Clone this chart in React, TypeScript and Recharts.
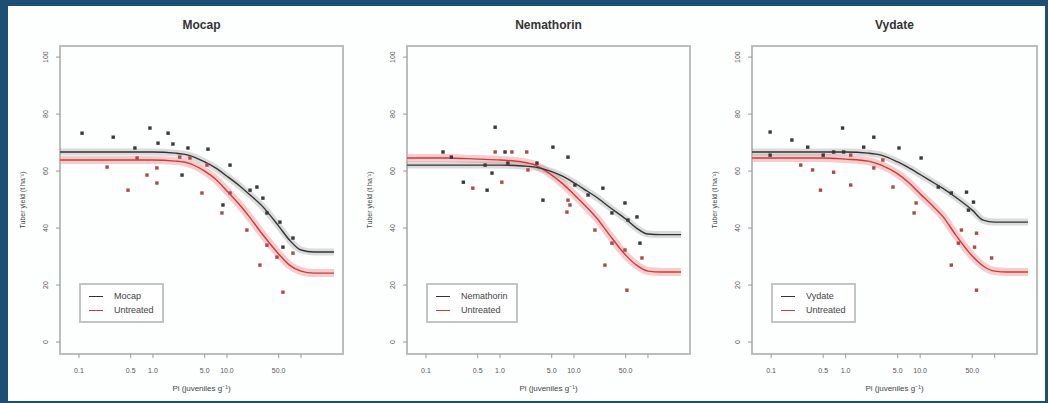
import React from "react";
import {
  ComposedChart,
  Line,
  Scatter,
  XAxis,
  YAxis,
  ReferenceArea,
} from "recharts";

// fitted curve grid (Pi values) shared by all panels
const FIT_X = [0.0555, 0.1, 0.2, 0.5, 1, 2, 3, 5, 7, 10, 15, 20, 30, 50, 70, 100, 150, 280];

const MOCAP_FIT = [66.7, 66.7, 66.7, 66.7, 66.7, 66.3, 65.6, 63.2, 61.1, 58.2, 54.7, 51.9, 47.7, 40.7, 35.8, 32.3, 31.6, 31.6];
const UNTR_FIT_1 = [63.9, 63.9, 63.9, 63.9, 63.9, 63.5, 62.8, 60.0, 57.2, 53.0, 48.0, 44.0, 37.9, 30.9, 27.0, 24.9, 24.2, 24.2];
const NEMA_FIT = [62.1, 62.1, 62.1, 62.1, 62.1, 61.8, 61.4, 59.8, 58.2, 55.9, 53.0, 50.9, 47.4, 43.2, 40.0, 37.9, 37.7, 37.7];
const UNTR_FIT_2 = [64.6, 64.6, 64.6, 64.2, 63.9, 63.2, 62.1, 58.6, 55.6, 51.8, 47.2, 43.7, 37.7, 30.5, 27.0, 24.9, 24.6, 24.6];
const VYD_FIT = [66.7, 66.7, 66.7, 66.7, 66.7, 66.3, 65.6, 63.2, 61.2, 58.8, 56.0, 54.0, 50.8, 46.3, 42.8, 42.1, 42.1, 42.1];
const UNTR_FIT_3 = [64.6, 64.6, 64.6, 64.6, 64.2, 63.5, 62.1, 59.0, 56.0, 52.0, 47.6, 44.2, 37.6, 30.2, 26.7, 24.9, 24.6, 24.6];

// observed plots: [Pi, yield]
const MOCAP_PTS = [
  [0.11, 73.3], [0.29, 71.9], [0.57, 68.1], [0.91, 75.1], [1.17, 69.8], [1.6, 73.3],
  [1.86, 69.5], [2.97, 68.1], [5.54, 67.7], [11.0, 62.1], [2.47, 58.6], [20.5, 53.3],
  [30.6, 50.5], [34.7, 45.3], [52, 42.1], [78, 36.5], [8.83, 48.1], [57.1, 33.3], [25.4, 54.4],
];
const UNTR_PTS_1 = [
  [0.24, 61.4], [0.46, 53.3], [0.83, 58.6], [1.13, 61.1], [1.13, 55.8], [0.61, 64.6],
  [2.3, 64.9], [3.16, 64.6], [5.37, 62.1], [4.59, 52.3], [11.0, 52.3], [8.55, 45.3],
  [18.6, 39.3], [27.9, 27.0], [47.4, 29.8], [78, 31.2], [57.1, 17.5], [34.7, 34.0],
];
const NEMA_PTS = [
  [0.17, 66.7], [0.22, 64.9], [0.32, 56.1], [0.67, 53.3], [0.86, 75.4], [1.17, 66.7],
  [0.63, 62.1], [0.78, 59.3], [1.28, 62.8], [3.16, 62.8], [5.2, 68.4], [8.3, 64.9],
  [3.81, 49.8], [10.3, 55.1], [15.5, 51.6], [24.6, 54.0], [32.6, 45.3], [48.9, 48.8],
  [53.7, 42.8], [71, 43.9], [78, 34.7],
];
const UNTR_PTS_2 = [
  [0.43, 54.0], [0.86, 66.7], [1.45, 66.7], [1.06, 56.1], [2.3, 66.7], [2.39, 60.4],
  [8.3, 49.8], [83, 29.5], [52, 18.2], [26.2, 27.0], [19.2, 39.3], [32.6, 34.7],
  [48.9, 32.3], [8.83, 48.1], [8.04, 45.6],
];
const VYD_PTS = [
  [0.097, 73.7], [0.19, 70.9], [0.097, 65.6], [0.31, 68.4], [0.5, 65.6], [0.69, 66.7],
  [0.91, 75.1], [0.94, 66.7], [1.75, 68.4], [2.39, 71.9], [5.2, 68.1], [10.3, 64.6],
  [17.5, 54.4], [26.2, 52.3], [41.9, 52.6], [52, 49.1], [44.5, 46.3],
];
const UNTR_PTS_3 = [
  [0.25, 62.1], [0.36, 60.4], [0.46, 53.3], [1.17, 65.6], [0.69, 59.6], [1.17, 55.1],
  [3.16, 63.9], [2.39, 61.1], [4.32, 54.4], [8.83, 48.8], [8.3, 45.3], [35.8, 39.3],
  [57.1, 38.2], [53.7, 33.3], [32.6, 34.7], [26.2, 27.0], [91, 29.5], [57.1, 18.2],
];

const TITLES = ["Mocap", "Nemathorin", "Vydate"];
const UNTREATED = "Untreated";
const X_TICKS = [0.1, 0.5, 1, 5, 10, 50, 100];
const X_TICK_LABELS = ["0.1", "0.5", "1.0", "5.0", "10.0", "50.0", ""];
const Y_TICKS = [0, 20, 40, 60, 80, 100];
const X_TITLE = "Pi (juveniles g\u207B\u00B9)";
const Y_TITLE = "Tuber yield (t ha\u207B\u00B9)";

const X_DOMAIN = [0.0554, 370];
const Y_DOMAIN = [-4.2, 103.9];
const FONT = "'Liberation Sans', Arial, sans-serif";

const PANELS = [
  { title: TITLES[0], fit: MOCAP_FIT, untrFit: UNTR_FIT_1, pts: MOCAP_PTS, untrPts: UNTR_PTS_1, boxLeft: 60, boxW: 283 },
  { title: TITLES[1], fit: NEMA_FIT, untrFit: UNTR_FIT_2, pts: NEMA_PTS, untrPts: UNTR_PTS_2, boxLeft: 407, boxW: 283 },
  { title: TITLES[2], fit: VYD_FIT, untrFit: UNTR_FIT_3, pts: VYD_PTS, untrPts: UNTR_PTS_3, boxLeft: 752, boxW: 285 },
];

const BOX_TOP = 46;
const BOX_BOTTOM = 354;
const H = 403;

function YTick(props: any) {
  const { x, y, payload } = props;
  return (
    <text x={x} y={y} transform={`rotate(-90 ${x} ${y})`} textAnchor="middle" fontSize={7} fill="#555" fontFamily={FONT}>
      {payload.value}
    </text>
  );
}

const square = (fill: string) => (p: any) =>
  p.cx == null ? <g /> : <rect x={p.cx - 1.7} y={p.cy - 1.7} width={3.4} height={3.4} fill={fill} />;

function Panel({ cfg }: { cfg: (typeof PANELS)[number] }) {
  const { title, fit, untrFit, pts, untrPts, boxLeft, boxW } = cfg;
  const data = FIT_X.map((x, i) => ({ x, t: fit[i], u: untrFit[i] }));
  const toPts = (arr: number[][]) => arr.map(([x, y]) => ({ x, y }));
  const chartW = boxW + 67;
  const left = boxLeft - 60;
  const cx = boxLeft + boxW / 2;

  return (
    <>
      <div style={{ position: "absolute", left: cx - 80, width: 160, top: 18, textAlign: "center", fontFamily: FONT, fontWeight: "bold", fontSize: 12, color: "#333" }}>
        {title}
      </div>
      <div style={{ position: "absolute", left, top: 0 }}>
        <ComposedChart width={chartW} height={H} data={data} margin={{ top: BOX_TOP, right: 7, bottom: H - BOX_BOTTOM - 30, left: 30 }}>
          <XAxis
            xAxisId="b"
            dataKey="x"
            type="number"
            scale="log"
            domain={X_DOMAIN}
            allowDataOverflow
            ticks={X_TICKS}
            tickFormatter={(v: number) => X_TICK_LABELS[X_TICKS.indexOf(v)] ?? ""}
            axisLine={false}
            tickLine={{ stroke: "#999" }}
            tickSize={4}
            tickMargin={10}
            height={30}
            tick={{ fontSize: 7, fill: "#555", fontFamily: FONT }}
            interval={0}
          />
          <YAxis
            yAxisId="l"
            type="number"
            domain={Y_DOMAIN}
            allowDataOverflow
            ticks={Y_TICKS}
            axisLine={false}
            tickLine={{ stroke: "#999" }}
            tickSize={4}
            tickMargin={8}
            width={30}
            tick={<YTick />}
            interval={0}
          />
          <ReferenceArea xAxisId="b" yAxisId="l" x1={X_DOMAIN[0]} x2={X_DOMAIN[1]} y1={Y_DOMAIN[0]} y2={Y_DOMAIN[1]} fill="none" stroke="#bdbdbd" strokeWidth={2} ifOverflow="visible" />
          <Line xAxisId="b" yAxisId="l" dataKey="u" type="monotone" stroke="#f2a3a3" strokeOpacity={0.55} strokeWidth={8} dot={false} isAnimationActive={false} />
          <Line xAxisId="b" yAxisId="l" dataKey="t" type="monotone" stroke="#9a9a9a" strokeOpacity={0.35} strokeWidth={7} dot={false} isAnimationActive={false} />
          <Line xAxisId="b" yAxisId="l" dataKey="u" type="monotone" stroke="#d23a3a" strokeWidth={1.4} dot={false} isAnimationActive={false} />
          <Line xAxisId="b" yAxisId="l" dataKey="t" type="monotone" stroke="#333" strokeWidth={1.4} dot={false} isAnimationActive={false} />
          <Scatter xAxisId="b" yAxisId="l" data={toPts(untrPts)} dataKey="y" shape={square("#b04848")} isAnimationActive={false} />
          <Scatter xAxisId="b" yAxisId="l" data={toPts(pts)} dataKey="y" shape={square("#3a3a3a")} isAnimationActive={false} />
        </ComposedChart>
      </div>
      {/* legend */}
      <div style={{ position: "absolute", left: boxLeft + 19, top: 283, height: 40, padding: "0 8px 0 8px", border: "2px solid #c4c4c4", background: "#fff", boxSizing: "border-box", fontFamily: FONT, fontSize: 9, color: "#444", display: "flex", flexDirection: "column", justifyContent: "center", gap: 3 }}>
        {[{ c: "#333", l: title }, { c: "#d23a3a", l: UNTREATED }].map(({ c, l }) => (
          <div key={l} style={{ display: "flex", alignItems: "center", height: 11 }}>
            <span style={{ display: "inline-block", width: 14, height: 0, borderTop: `1.5px solid ${c}`, marginRight: 11 }} />
            <span>{l}</span>
          </div>
        ))}
      </div>
      {/* axis titles */}
      <div style={{ position: "absolute", left: cx - 80, width: 160, top: 382, textAlign: "center", fontFamily: FONT, fontSize: 8, color: "#444" }}>
        {X_TITLE}
      </div>
      <div style={{ position: "absolute", left: boxLeft - 37 - 60, top: 195, width: 120, textAlign: "center", fontFamily: FONT, fontSize: 7, color: "#444", transform: "rotate(-90deg)", transformOrigin: "60px 5px" }}>
        {Y_TITLE}
      </div>
    </>
  );
}

export default function App() {
  return (
    <div style={{ position: "absolute", left: 0, top: 0, width: 1048, height: H, background: "#1d4e74", overflow: "hidden" }}>
      <div style={{ position: "absolute", left: 8, top: 6, width: 1037, height: 395, background: "#fdfefe" }} />
      {PANELS.map((p) => (
        <Panel key={p.title} cfg={p} />
      ))}
    </div>
  );
}
